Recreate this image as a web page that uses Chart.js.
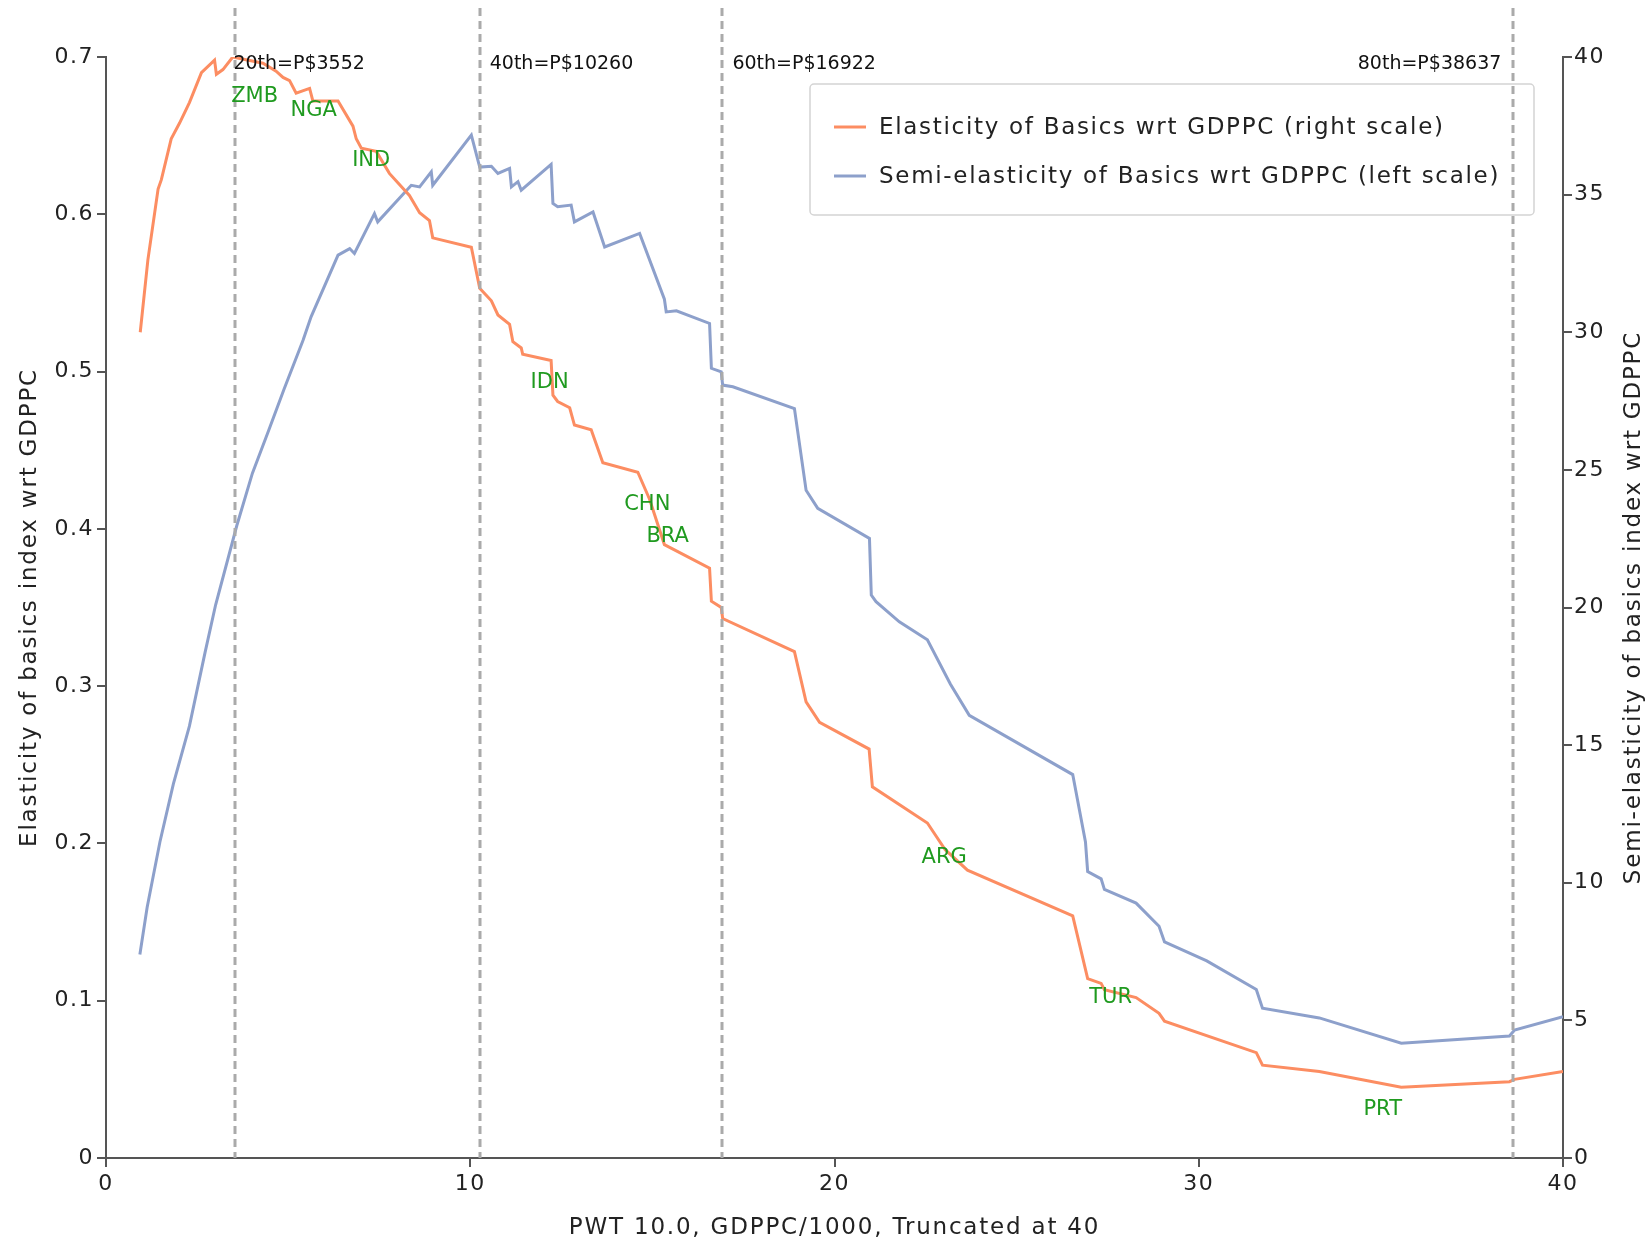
<!DOCTYPE html>
<html>
<head>
<meta charset="utf-8">
<script src="https://cdn.jsdelivr.net/npm/chart.js@4/dist/chart.umd.min.js"></script>
<style>
  html, body { margin: 0; padding: 0; background: #ffffff; }
  #wrap { width: 1651px; height: 1240px; }
</style>
</head>
<body>
<div id="wrap"><canvas id="chart" width="1651" height="1240"></canvas></div>
<script>
// GDP per capita (thousands, PWT 10.0) at which each curve is evaluated
const elasticityX = [0.94, 1.15, 1.43, 1.52, 1.79, 2.02, 2.29, 2.62, 2.98, 3.03, 3.21, 3.48, 4.31, 4.67, 4.86, 5.04,
  5.22, 5.59, 5.68, 6.37, 6.78, 6.87, 7.01, 7.42, 7.78, 8.33, 8.61, 8.88, 8.97, 10.03, 10.26, 10.58, 10.76,
  11.08, 11.17, 11.40, 11.44, 12.22, 12.27, 12.40, 12.73, 12.86, 13.32, 13.64, 14.60, 14.92, 15.33, 16.57,
  16.62, 16.89, 16.93, 18.90, 19.22, 19.59, 20.95, 21.04, 22.55, 23.04, 23.65, 26.54, 26.95, 27.32, 27.41,
  28.28, 28.91, 29.06, 31.58, 31.75, 33.31, 35.56, 38.53, 38.67, 40.0];
// Elasticity of the basics index with respect to GDPPC
const elasticityY = [0.525, 0.571, 0.616, 0.622, 0.648, 0.658, 0.671, 0.690, 0.698, 0.689, 0.692, 0.700, 0.696, 0.691, 0.687, 0.685,
  0.677, 0.680, 0.672, 0.672, 0.656, 0.648, 0.642, 0.640, 0.626, 0.612, 0.601, 0.596, 0.585, 0.579, 0.553, 0.545, 0.536,
  0.530, 0.519, 0.515, 0.511, 0.507, 0.485, 0.481, 0.477, 0.466, 0.463, 0.442, 0.436, 0.419, 0.390, 0.375,
  0.354, 0.350, 0.343, 0.322, 0.290, 0.277, 0.260, 0.236, 0.213, 0.196, 0.183, 0.154, 0.114, 0.111, 0.107,
  0.102, 0.092, 0.087, 0.067, 0.059, 0.055, 0.045, 0.0485, 0.050, 0.055];

const semiX = [0.93, 1.13, 1.48, 1.85, 2.29, 2.72, 3.01, 3.59, 4.02, 4.46, 4.89, 5.41, 5.63, 6.37, 6.69, 6.82,
  7.37, 7.46, 8.38, 8.61, 8.93, 8.97, 10.03, 10.26, 10.58, 10.76, 11.08, 11.13, 11.31, 11.40, 12.22, 12.27,
  12.40, 12.77, 12.86, 13.37, 13.69, 14.65, 15.33, 15.38, 15.66, 16.57, 16.62, 16.89, 16.93, 17.21, 18.90,
  19.22, 19.54, 20.96, 21.01, 21.14, 21.78, 22.55, 23.18, 23.70, 26.54, 26.89, 26.95, 27.32, 27.41, 28.28,
  28.91, 29.06, 30.22, 31.58, 31.75, 33.31, 35.56, 38.53, 38.67, 40.0];
// Semi-elasticity of the basics index with respect to GDPPC
const semiY = [7.39, 9.11, 11.48, 13.59, 15.69, 18.37, 20.10, 22.97, 24.88, 26.41, 27.94, 29.71, 30.56, 32.80, 33.04, 32.86,
  34.31, 34.01, 35.34, 35.28, 35.83, 35.34, 37.16, 36.00, 36.03, 35.77, 35.95, 35.28, 35.47, 35.16, 36.10, 34.68,
  34.56, 34.62, 34.01, 34.37, 33.10, 33.59, 31.20, 30.74, 30.78, 30.32, 28.69, 28.56, 28.08, 28.02, 27.23,
  24.26, 23.60, 22.51, 20.45, 20.21, 19.48, 18.83, 17.22, 16.08, 13.93, 11.48, 10.41, 10.14, 9.76, 9.26,
  8.42, 7.85, 7.16, 6.12, 5.44, 5.09, 4.17, 4.43, 4.65, 5.13];

// Income percentiles (GDPPC/1000) and their labels
const percentileX = [3.552, 10.260, 16.922, 38.637];
const percentileLabels = ['20th=P$3552', '40th=P$10260', '60th=P$16922', '80th=P$38637'];

// Country markers placed along the elasticity curve
const countryNames = ['ZMB', 'NGA', 'IND', 'IDN', 'CHN', 'BRA', 'ARG', 'TUR', 'PRT'];
const countryX = [4.08, 5.70, 7.28, 12.18, 14.86, 15.42, 23.01, 27.58, 35.05];
const countryY = [0.675, 0.666, 0.634, 0.493, 0.4155, 0.395, 0.191, 0.102, 0.0305];

const xTicks = [0, 10, 20, 30, 40];

const FONT = '"DejaVu Sans", Verdana, sans-serif';
const ORANGE = '#fc8d62';
const BLUE = '#8da0cb';
const AXIS = '#555555';

const zip = (xs, ys) => xs.map((x, i) => ({ x: x, y: ys[i] }));

// wide-set tick labels
const spacing = {
  id: 'spacing',
  beforeDraw(chart) { chart.ctx.letterSpacing = '1.5px'; }
};

const overlay = {
  id: 'overlay',
  afterDatasetsDraw(chart) {
    const ctx = chart.ctx;
    const xs = chart.scales.x, ys = chart.scales.y;
    const area = chart.chartArea;
    ctx.save();

    // legend frame
    const lg = { l: 810, t: 84, r: 1534, b: 215 };
    ctx.strokeStyle = '#d4d4d4';
    ctx.lineWidth = 1.5;
    ctx.beginPath();
    ctx.roundRect(lg.l, lg.t, lg.r - lg.l, lg.b - lg.t, 4);
    ctx.stroke();
    ctx.font = '23px ' + FONT;
    ctx.letterSpacing = '1.7px';
    ctx.textBaseline = 'middle';
    ctx.textAlign = 'left';
    chart.data.datasets.forEach((ds, i) => {
      const y = 127 + i * 49;
      ctx.strokeStyle = ds.borderColor;
      ctx.lineWidth = 3;
      ctx.setLineDash([]);
      ctx.beginPath();
      ctx.moveTo(834, y);
      ctx.lineTo(866, y);
      ctx.stroke();
      ctx.fillStyle = '#222';
      ctx.fillText(ds.label, 879, y + 1);
    });

    // percentile markers
    ctx.strokeStyle = '#aaaaaa';
    ctx.lineWidth = 3;
    ctx.setLineDash([8, 5]);
    percentileX.forEach(v => {
      const px = Math.round(xs.getPixelForValue(v));
      ctx.beginPath();
      ctx.moveTo(px, 8);
      ctx.lineTo(px, area.bottom);
      ctx.stroke();
    });
    ctx.setLineDash([]);
    ctx.font = '19px ' + FONT;
    ctx.letterSpacing = '0px';
    ctx.fillStyle = '#111';
    ctx.textBaseline = 'middle';
    percentileX.forEach((v, i) => {
      const px = xs.getPixelForValue(v);
      if (i === percentileX.length - 1) {
        ctx.textAlign = 'right';
        ctx.fillText(percentileLabels[i], px - 12, 64);
      } else {
        ctx.textAlign = 'left';
        ctx.fillText(percentileLabels[i], px + (i === 0 ? -2 : 10), 64);
      }
    });

    // country labels
    ctx.font = '21px ' + FONT;
    ctx.fillStyle = '#1f9a1f';
    ctx.textAlign = 'center';
    countryNames.forEach((n, i) => {
      ctx.fillText(n, xs.getPixelForValue(countryX[i]), ys.getPixelForValue(countryY[i]));
    });

    // axis titles
    ctx.fillStyle = '#222';
    ctx.font = '23px ' + FONT;
    ctx.letterSpacing = '1.8px';
    ctx.textAlign = 'center';
    ctx.fillText('PWT 10.0, GDPPC/1000, Truncated at 40', (area.left + area.right) / 2, 1228);
    const midY = (area.top + area.bottom) / 2;
    [[30, 'Elasticity of basics index wrt GDPPC'], [1634, 'Semi-elasticity of basics index wrt GDPPC']].forEach(([x, t]) => {
      ctx.save();
      ctx.translate(x, midY);
      ctx.rotate(-Math.PI / 2);
      ctx.fillText(t, 0, 0);
      ctx.restore();
    });
    ctx.restore();
  }
};

const tickFont = { family: FONT, size: 22 };

new Chart(document.getElementById('chart'), {
  type: 'line',
  data: {
    datasets: [
      {
        label: 'Elasticity of Basics wrt GDPPC (right scale)',
        data: zip(elasticityX, elasticityY),
        yAxisID: 'y',
        borderColor: ORANGE,
        borderWidth: 3,
        pointRadius: 0,
        tension: 0,
        fill: false
      },
      {
        label: 'Semi-elasticity of Basics wrt GDPPC (left scale)',
        data: zip(semiX, semiY),
        yAxisID: 'y1',
        borderColor: BLUE,
        borderWidth: 3,
        pointRadius: 0,
        tension: 0,
        fill: false
      }
    ]
  },
  options: {
    responsive: false,
    animation: false,
    devicePixelRatio: 1,
    layout: { padding: { top: 57, left: 0, right: 0, bottom: 0 } },
    plugins: { legend: { display: false }, tooltip: { enabled: false } },
    scales: {
      x: {
        type: 'linear',
        min: 0, max: 40,
        afterFit: s => { s.height = 82; },
        afterBuildTicks: s => { s.ticks = xTicks.map(v => ({ value: v })); },
        grid: { display: true, drawOnChartArea: false, drawTicks: true, tickLength: 9, color: AXIS, lineWidth: 2 },
        border: { display: true, color: AXIS, width: 2 },
        ticks: { color: '#222', font: tickFont, padding: 4, maxRotation: 0 }
      },
      y: {
        position: 'left',
        min: 0, max: 0.7,
        afterFit: s => { s.width = 106; },
        grid: { display: true, drawOnChartArea: false, drawTicks: true, tickLength: 9, color: AXIS, lineWidth: 2 },
        border: { display: true, color: AXIS, width: 2 },
        ticks: {
          stepSize: 0.1, color: '#222', font: tickFont, padding: 3,
          callback: v => (Math.abs(v) < 1e-9 ? '0' : v.toFixed(1))
        }
      },
      y1: {
        position: 'right',
        min: 0, max: 40,
        afterFit: s => { s.width = 88; },
        grid: { display: true, drawOnChartArea: false, drawTicks: true, tickLength: 9, color: AXIS, lineWidth: 2 },
        border: { display: true, color: AXIS, width: 2 },
        ticks: { stepSize: 5, color: '#222', font: tickFont, padding: 2 }
      }
    }
  },
  plugins: [spacing, overlay]
});
</script>
</body>
</html>
